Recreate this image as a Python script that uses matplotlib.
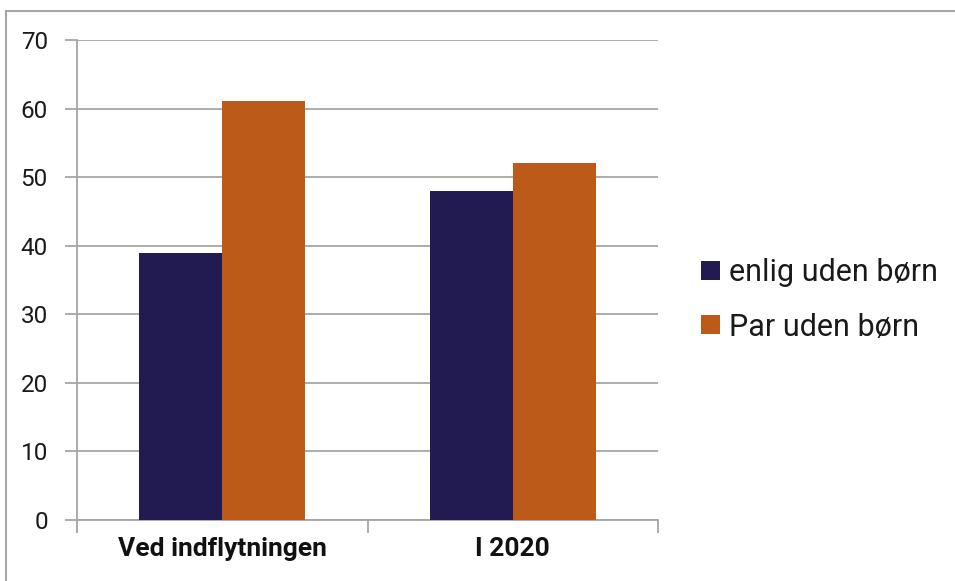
import matplotlib
matplotlib.use("Agg")
import matplotlib.pyplot as plt
from matplotlib.patches import Rectangle, Patch
import numpy as np

categories = ["Ved indflytningen", "I 2020"]
series_names = ["enlig uden børn", "Par uden børn"]
enlig = [38.9, 48.0]
par = [61.1, 52.0]
yticks = [0, 10, 20, 30, 40, 50, 60, 70]

colors = ["#221b51", "#bb5a19"]
grid_c = "#a6a6a6"

plt.rcParams['font.family'] = ['Roboto', 'DejaVu Sans']

fig = plt.figure(figsize=(9.55, 5.81), dpi=100)
ax = fig.add_axes([77/955, 61/581, 581/955, 480/581])

x = np.arange(len(categories))
w = 1/3.5
ax.bar(x - w/2, enlig, w, color=colors[0], zorder=3, label=series_names[0])
ax.bar(x + w/2, par, w, color=colors[1], zorder=3, label=series_names[1])

ax.set_xlim(-0.5, len(categories) - 0.5)
ax.set_ylim(0, 70)
ax.set_yticks(yticks)
ax.set_yticklabels([str(t) for t in yticks], fontsize=17.5, color="#1a1a1a")
ax.yaxis.grid(True, color=grid_c, linewidth=1.3, zorder=0)
ax.set_axisbelow(True)

ax.set_xticks(x)
ax.set_xticklabels(categories, fontsize=19, fontweight="bold", color="#111111")
ax.tick_params(axis='x', length=0, pad=12)
ax.set_xticks([-0.5, 0.5, 1.5], minor=True)
ax.tick_params(axis='x', which='minor', length=9, width=1.3, color=grid_c)
ax.tick_params(axis='y', length=9, width=1.3, color=grid_c, pad=12)

for s in ["top", "right"]:
    ax.spines[s].set_visible(False)
for s in ["left", "bottom"]:
    ax.spines[s].set_color(grid_c)
    ax.spines[s].set_linewidth(1.3)

handles = [Patch(facecolor=colors[0]), Patch(facecolor=colors[1])]
fig.legend(handles, series_names, loc="center left",
           bbox_to_anchor=(689/955, 1 - 300/581), frameon=False,
           fontsize=22, handlelength=0.6, handleheight=0.6,
           handletextpad=0.3, labelspacing=0.82, borderpad=0.4,
           borderaxespad=0, labelcolor="#1a1a1a")

fig.patches.append(Rectangle((6/955, -0.1), 1.2, 1 - 11/581 + 0.1,
                             transform=fig.transFigure, fill=False,
                             edgecolor=grid_c, linewidth=1.5))

fig.savefig("out.png", dpi=100)
